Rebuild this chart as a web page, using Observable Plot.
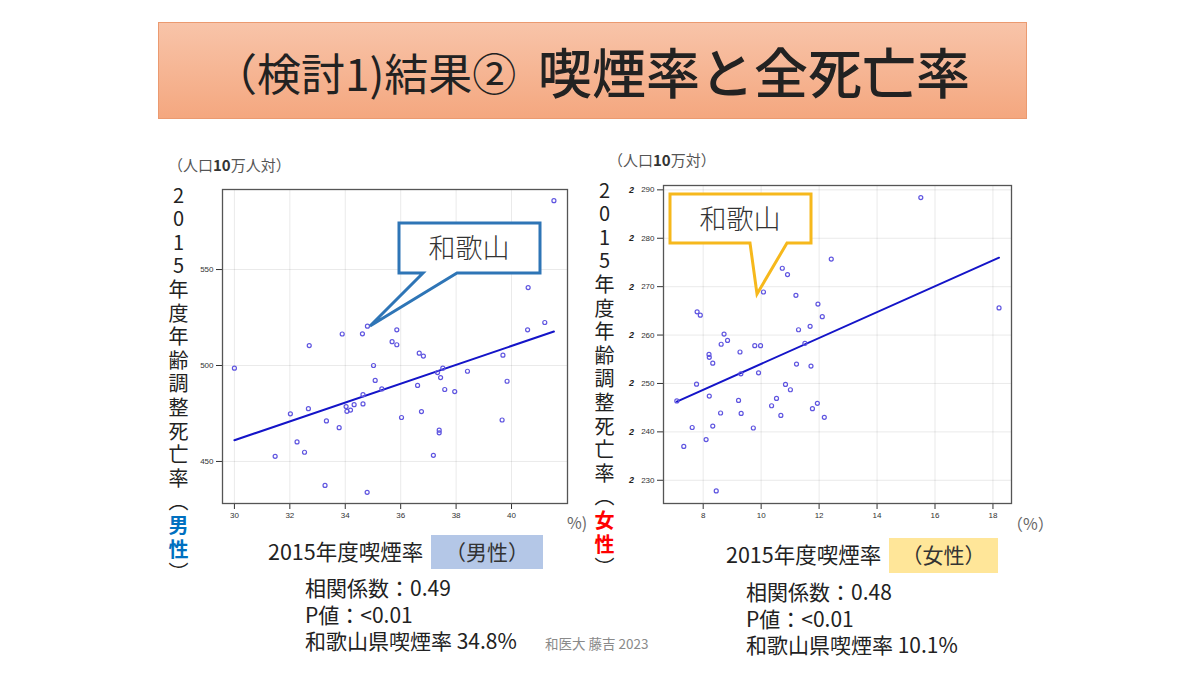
<!DOCTYPE html>
<html>
<head>
<meta charset="utf-8">
<script src="https://cdn.jsdelivr.net/npm/d3@7"></script>
<script src="https://cdn.jsdelivr.net/npm/@observablehq/plot@0.6"></script>
<style>
  html, body { margin: 0; padding: 0; background: #fff; }
  #slide { position: relative; width: 1200px; height: 675px; overflow: hidden; background: #fff;
    font-family: "Noto Sans CJK JP", "Noto Sans", sans-serif; color: #222; }
  .abs { position: absolute; white-space: nowrap; }
  #banner { left: 158px; top: 22px; width: 869px; height: 97px; box-sizing: border-box;
    background: linear-gradient(#f8c4a9, #f4a77f); border: 1px solid #eb9a70; }
  .vlabel { position: absolute; writing-mode: vertical-rl; text-orientation: upright;
    font-size: 20px; line-height: 26px; letter-spacing: 3.6px; color: #222; }
  .stat { font-size: 21px; line-height: 26.5px; color: #222; white-space: pre; }
</style>
</head>
<body>
<div id="slide">
  <div id="banner" class="abs"></div>
  <div class="abs" style="left:213px; top:44px; height:56px; line-height:56px; font-size:44px;">（検討1)結果②</div>
  <div class="abs" style="left:538px; top:43px; height:56px; line-height:56px; font-size:54px; font-weight:500;">喫煙率と全死亡率</div>

  <div class="abs" style="left:168px; top:154px; font-size:15px; color:#555;">（人口<b style="color:#333">10</b>万人対）</div>
  <div class="abs" style="left:608px; top:149px; font-size:15px; color:#555;">（人口<b style="color:#333">10</b>万対）</div>

  <div id="chartL" class="abs" style="left:180px; top:180px;"></div>
  <div id="chartR" class="abs" style="left:620px; top:175px;"></div>

  <div class="abs" style="left:567px; top:510px; font-size:16px; color:#666;">%)</div>
  <div class="abs" style="left:1007px; top:511px; font-size:16px; color:#666;">（%）</div>

  <div class="vlabel" style="left:165px; top:185px;">2015年度年齢調整死亡率（<b style="color:#0070c0">男性</b>）</div>
  <div class="vlabel" style="left:591px; top:180px;">2015年度年齢調整死亡率（<b style="color:#ff0000">女性</b>）</div>

  <svg class="abs" style="left:0; top:0;" width="1200" height="675" id="callouts">
    <path d="M399,223 H540 V273 H457 L370,326 L423,273 H399 Z" fill="#fff" stroke="#2e75b6" stroke-width="3" stroke-linejoin="miter"/>
    <text x="469" y="258" text-anchor="middle" font-size="27" fill="#333" font-family="Noto Sans CJK JP" font-weight="300">和歌山</text>
    <path d="M670,194 H811 V243 H787 L757,294 L750,243 H670 Z" fill="#fff" stroke="#f6b81c" stroke-width="3" stroke-linejoin="miter"/>
    <text x="740" y="229" text-anchor="middle" font-size="27" fill="#333" font-family="Noto Sans CJK JP" font-weight="300">和歌山</text>
  </svg>

  <div class="abs" style="left:268px; top:536px; font-size:21.5px; line-height:30px;">2015年度喫煙率</div>
  <div class="abs" style="left:431px; top:535px; width:112px; height:34px; background:#b4c7e7; font-size:21px; line-height:32px; text-align:center; color:#333;">（男性）</div>
  <div class="abs" style="left:726px; top:539px; font-size:21.5px; line-height:30px;">2015年度喫煙率</div>
  <div class="abs" style="left:889px; top:538px; width:109px; height:35px; background:#ffe699; font-size:21px; line-height:33px; text-align:center; color:#333;">（女性）</div>

  <div class="abs stat" style="left:305px; top:574px;">相関係数：0.49
P値：&lt;0.01
和歌山県喫煙率 34.8%</div>
  <div class="abs" style="left:545px; top:633px; font-size:13.5px; color:#8a8a8a;">和医大 藤吉 2023</div>

  <div class="abs stat" style="left:746px; top:578px;">相関係数：0.48
P値：&lt;0.01
和歌山県喫煙率 10.1%</div>
</div>

<script>
// ---- Data ----
const maleSmoking = [30.0, 41.53, 40.6, 41.2, 40.58, 34.8, 33.89, 34.62, 35.86, 32.7, 35.69, 35.86, 36.67, 36.82, 35.02, 39.69, 35.08, 35.32, 34.64, 34.32, 34.64, 34.03, 34.19, 34.06, 32.67, 32.02, 33.32, 33.78, 36.03, 36.61, 36.75, 37.33, 37.44, 37.52, 37.59, 37.95, 38.41, 39.84, 39.66, 37.39, 37.39, 37.18, 32.26, 32.53, 31.47, 33.27, 34.79];
const maleMortality = [498.6, 585.9, 540.6, 522.4, 518.6, 520.5, 516.4, 516.5, 518.6, 510.4, 512.4, 510.8, 506.4, 504.9, 500.0, 505.4, 492.2, 487.8, 484.8, 479.6, 480.0, 478.6, 476.8, 476.1, 477.5, 474.8, 471.1, 467.6, 472.9, 489.6, 476.0, 496.3, 493.7, 498.6, 487.5, 486.4, 497.0, 491.8, 471.6, 466.3, 464.9, 453.2, 460.2, 454.8, 452.7, 437.5, 433.9];

const femaleSmoking = [7.09, 7.33, 7.62, 7.77, 7.79, 7.90, 8.10, 8.20, 8.21, 8.21, 8.33, 8.33, 8.45, 8.60, 8.62, 8.72, 8.84, 9.22, 9.27, 9.30, 9.31, 9.73, 9.78, 9.91, 9.98, 10.08, 10.36, 10.53, 10.68, 10.73, 10.84, 10.91, 11.01, 11.20, 11.22, 11.29, 11.51, 11.69, 11.72, 11.77, 11.94, 11.96, 12.11, 12.18, 12.42, 15.51, 18.21];
const femaleMortality = [246.4, 237.0, 240.9, 249.85, 264.8, 264.1, 238.4, 256.0, 255.4, 247.4, 254.2, 241.2, 227.8, 243.9, 258.1, 260.2, 258.9, 246.5, 256.5, 252.0, 243.8, 240.8, 257.8, 252.2, 257.8, 268.9, 245.4, 246.9, 243.4, 273.8, 249.8, 272.5, 248.7, 268.2, 254.0, 261.1, 258.3, 261.8, 253.6, 244.8, 245.9, 266.4, 263.8, 243.0, 275.7, 288.4, 265.6];

const maleXTicks = [30, 32, 34, 36, 38, 40];
const maleYTicks = [450, 500, 550];
const femaleXTicks = [8, 10, 12, 14, 16, 18];
const femaleYTicks = [230, 240, 250, 260, 270, 280, 290];

const maleData = maleSmoking.map((x, i) => ({x, y: maleMortality[i]}));
const femaleData = femaleSmoking.map((x, i) => ({x, y: femaleMortality[i]}));

const dotColor = "#5f55e0";
const lineColor = "#1414c8";
const baseStyle = {fontSize: "8px", fontFamily: "Liberation Sans, Arial, sans-serif", color: "#333", background: "transparent", overflow: "visible"};

const left = Plot.plot({
  width: 400, height: 345,
  marginLeft: 42, marginRight: 13, marginTop: 9, marginBottom: 22,
  style: baseStyle,
  x: {domain: [29.57, 42.02], ticks: maleXTicks, grid: true, label: null, tickSize: 6},
  y: {domain: [428.1, 591.7], ticks: maleYTicks, grid: true, label: null, tickSize: 6},
  marks: [
    Plot.linearRegressionY(maleData, {x: "x", y: "y", stroke: lineColor, strokeWidth: 2, ci: 0}),
    Plot.dot(maleData, {x: "x", y: "y", r: 2, stroke: dotColor, strokeWidth: 1.2, fill: "none"}),
    Plot.frame({stroke: "#555", strokeWidth: 1.3})
  ]
});
document.getElementById("chartL").appendChild(left);

const right = Plot.plot({
  width: 410, height: 355,
  marginLeft: 43, marginRight: 19, marginTop: 10, marginBottom: 27,
  style: baseStyle,
  x: {domain: [6.63, 18.64], ticks: femaleXTicks, grid: true, label: null, tickSize: 6},
  y: {domain: [225.2, 290.9], ticks: femaleYTicks, grid: true, label: null, tickSize: 6},
  marks: [
    Plot.text(femaleYTicks, {x: () => 6.63, y: d => d, text: () => "2", dx: -32, fontSize: 9, fontWeight: "bold", fontStyle: "italic", fill: "#222"}),
    Plot.linearRegressionY(femaleData, {x: "x", y: "y", stroke: lineColor, strokeWidth: 2, ci: 0}),
    Plot.dot(femaleData, {x: "x", y: "y", r: 2, stroke: dotColor, strokeWidth: 1.2, fill: "none"}),
    Plot.frame({stroke: "#555", strokeWidth: 1.3})
  ]
});
document.getElementById("chartR").appendChild(right);
</script>
</body>
</html>
